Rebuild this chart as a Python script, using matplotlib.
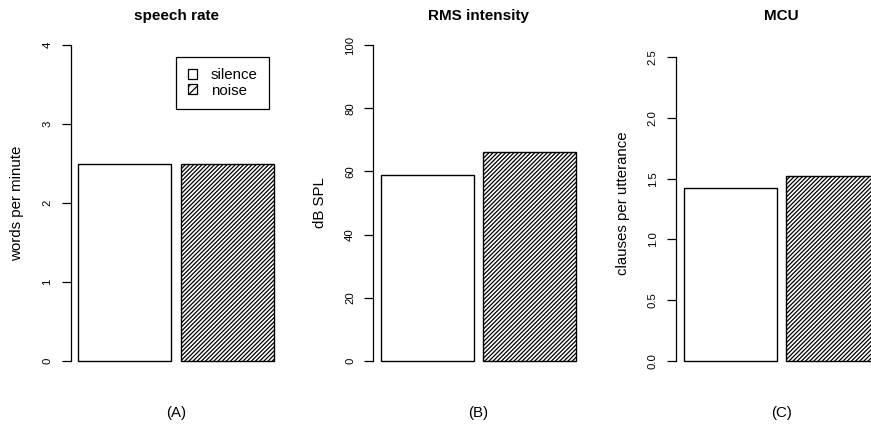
import matplotlib
matplotlib.use("Agg")
import matplotlib.pyplot as plt
from matplotlib.patches import Patch

# ---- data ----
conditions = ["silence", "noise"]
titles = ["speech rate", "RMS intensity", "MCU"]
ylabels = ["words per minute", "dB SPL", "clauses per utterance"]
panel_tags = ["(A)", "(B)", "(C)"]
speech_rate = [2.5, 2.5]
rms_intensity = [59, 66]
mcu = [1.42, 1.52]
yticks_a = [0, 1, 2, 3, 4]
yticks_b = [0, 20, 40, 60, 80, 100]
yticks_c = [0.0, 0.5, 1.0, 1.5, 2.0, 2.5]
ytick_labels_c = ["0.0", "0.5", "1.0", "1.5", "2.0", "2.5"]
ylims = [(0, 4), (0, 100), (0, 2.6)]

plt.rcParams["font.family"] = ["Liberation Sans", "DejaVu Sans"]
plt.rcParams["hatch.linewidth"] = 0.9

W, H = 871, 429
fig = plt.figure(figsize=(W / 100, H / 100), dpi=100)

values = [speech_rate, rms_intensity, mcu]
ticks = [yticks_a, yticks_b, yticks_c]
ticklabels = [[str(t) for t in yticks_a], [str(t) for t in yticks_b], ytick_labels_c]
hatches = [None, "////////"]

ax_w, ax_h = 211, 341.2
ax_bottom = H - 373.6
for i in range(3):
    left = 70.5 + i * 302.6
    ax = fig.add_axes([left / W, ax_bottom / H, ax_w / W, ax_h / H])
    x = [0.6, 1.7]
    for j in range(2):
        ax.bar(x[j], values[i][j], width=1.0, color="white", edgecolor="black",
               linewidth=1.0, hatch=hatches[j])
    lo, hi = ylims[i]
    ext = 0.04 * (hi - lo)
    ax.set_ylim(lo - ext, hi + ext)
    ax.set_xlim(0.016, 2.284)
    for s in ["top", "right", "bottom"]:
        ax.spines[s].set_visible(False)
    ax.spines["left"].set_bounds(ticks[i][0], ticks[i][-1])
    ax.spines["left"].set_linewidth(0.9)
    ax.set_xticks([])
    ax.set_yticks(ticks[i])
    ax.set_yticklabels(ticklabels[i], rotation=90, va="center", ha="right", fontsize=8.2)
    ax.tick_params(axis="y", length=6.5, width=0.9, pad=6.5)
    ax.text(0.5, 1.048, titles[i], transform=ax.transAxes, ha="center", va="center",
            fontsize=11, fontweight="bold")
    ax.text(-53 / ax_w, 0.5, ylabels[i], transform=ax.transAxes, ha="center", va="center",
            rotation=90, fontsize=10.8)
    ax.text(0.5, -0.1155, panel_tags[i], transform=ax.transAxes, ha="center", va="center",
            fontsize=10.8)
    ax.patch.set_visible(False)
    if i == 0:
        handles = [Patch(facecolor="white", edgecolor="black", linewidth=0.9, hatch=h)
                   for h in ["", "////"]]
        leg = ax.legend(handles, conditions, loc="upper right",
                        bbox_to_anchor=(0.941, 0.928), borderaxespad=0,
                        fontsize=10.8, handlelength=0.65, handleheight=0.65,
                        handletextpad=0.9, labelspacing=0.1, borderpad=0.75,
                        fancybox=False, framealpha=1, edgecolor="black")
        leg.get_frame().set_linewidth(0.9)

fig.savefig("out.png", dpi=100)
